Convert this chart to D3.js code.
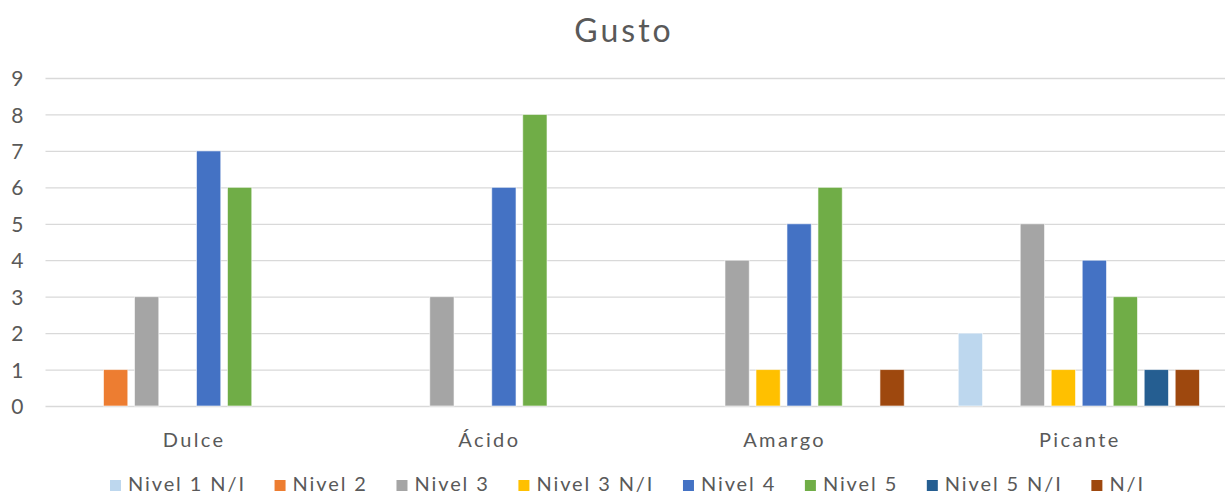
<!DOCTYPE html>
<html><head><meta charset="utf-8">
<script src="https://cdn.jsdelivr.net/npm/d3@7"></script>
<style>body{margin:0;background:#fff}svg{display:block}text{font-family:"Century Gothic","URW Gothic",Lato,"Noto Sans",sans-serif;fill:#595959}</style>
</head><body><svg id="c" width="1225" height="496"></svg>
<script>
const categories = ["Dulce", "Ácido", "Amargo", "Picante"];
const seriesNames = ["Nivel 1 N/I", "Nivel 2", "Nivel 3", "Nivel 3 N/I", "Nivel 4", "Nivel 5", "Nivel 5 N/I", "N/I"];
const colors = ["#BDD7EE", "#ED7D31", "#A5A5A5", "#FFC000", "#4472C4", "#70AD47", "#255E91", "#9E480E"];
const nivel1NI = [0, 0, 0, 2];
const nivel2   = [1, 0, 0, 0];
const nivel3   = [3, 3, 4, 5];
const nivel3NI = [0, 0, 1, 1];
const nivel4   = [7, 6, 5, 4];
const nivel5   = [6, 8, 6, 3];
const nivel5NI = [0, 0, 0, 1];
const ni       = [0, 0, 1, 1];
const yTicks = [0,1,2,3,4,5,6,7,8,9];
const title = "Gusto";

const seriesValues = [nivel1NI, nivel2, nivel3, nivel3NI, nivel4, nivel5, nivel5NI, ni];
const svg = d3.select("#c");
const pLeft = 45.5, pRight = 1226.5, pTop = 78, pBottom = 406;

const x0 = d3.scaleBand().domain(categories).range([pLeft, pRight]).padding(0);
const x1 = d3.scaleBand().domain(seriesNames).range([27, x0.bandwidth() - 27]).paddingInner(0.216).paddingOuter(0);
const y = d3.scaleLinear().domain([0, 9]).range([pBottom, pTop]);

// gridlines + y labels
const gAxis = svg.append("g").attr("transform", `translate(${pLeft},0)`)
  .call(d3.axisLeft(y).tickValues(yTicks).tickSize(-(pRight - pLeft)).tickFormat(d3.format("d")));
gAxis.select(".domain").remove();
gAxis.selectAll(".tick line").attr("stroke", "#D9D9D9").attr("stroke-width", 1.3);
gAxis.selectAll(".tick text").style("font-size", "21px").attr("fill", "#595959").attr("x", -22).attr("dy", "0.36em");

// bars
const groups = svg.append("g").selectAll("g").data(categories).join("g")
  .attr("transform", d => `translate(${x0(d)},0)`);
groups.selectAll("rect").data((c, ci) => seriesNames.map((s, si) => ({s, si, v: seriesValues[si][ci]})).filter(d => d.v > 0))
  .join("rect")
  .attr("x", d => x1(d.s)).attr("width", x1.bandwidth())
  .attr("y", d => y(d.v)).attr("height", d => y(0) - y(d.v))
  .attr("fill", d => colors[d.si])
  .attr("stroke", "#fff").attr("stroke-opacity", 0.6).attr("stroke-width", 1);

// category axis labels
svg.append("g").selectAll("text").data(categories).join("text")
  .attr("x", d => x0(d) + x0.bandwidth() / 2 + 1).attr("y", 447)
  .attr("text-anchor", "middle").style("font-size", "20px").style("letter-spacing", "2.4px").text(d => d);

// title
svg.append("text").attr("x", 624).attr("y", 42).attr("text-anchor", "middle")
  .style("font-size", "32px").style("letter-spacing", "3px").text(title);

// legend
const leg = svg.append("g");
const items = leg.selectAll("g").data(seriesNames).join("g");
items.append("rect").attr("width", 11).attr("height", 11).attr("y", -11).attr("fill", (d, i) => colors[i]);
items.append("text").attr("x", 18).attr("y", 0).style("font-size", "20px").style("letter-spacing", "1.9px").text(d => d);
const widths = [];
items.each(function() { widths.push(d3.select(this).select("text").node().getComputedTextLength() + 18); });
const legendSpan = 1035;
const gap = (legendSpan - d3.sum(widths)) / (widths.length - 1);
let xpos = 0;
items.each(function(d, i) {
  d3.select(this).attr("transform", `translate(${xpos},0)`);
  xpos += widths[i] + gap;
});
leg.attr("transform", `translate(110,491)`);
</script></body></html>
